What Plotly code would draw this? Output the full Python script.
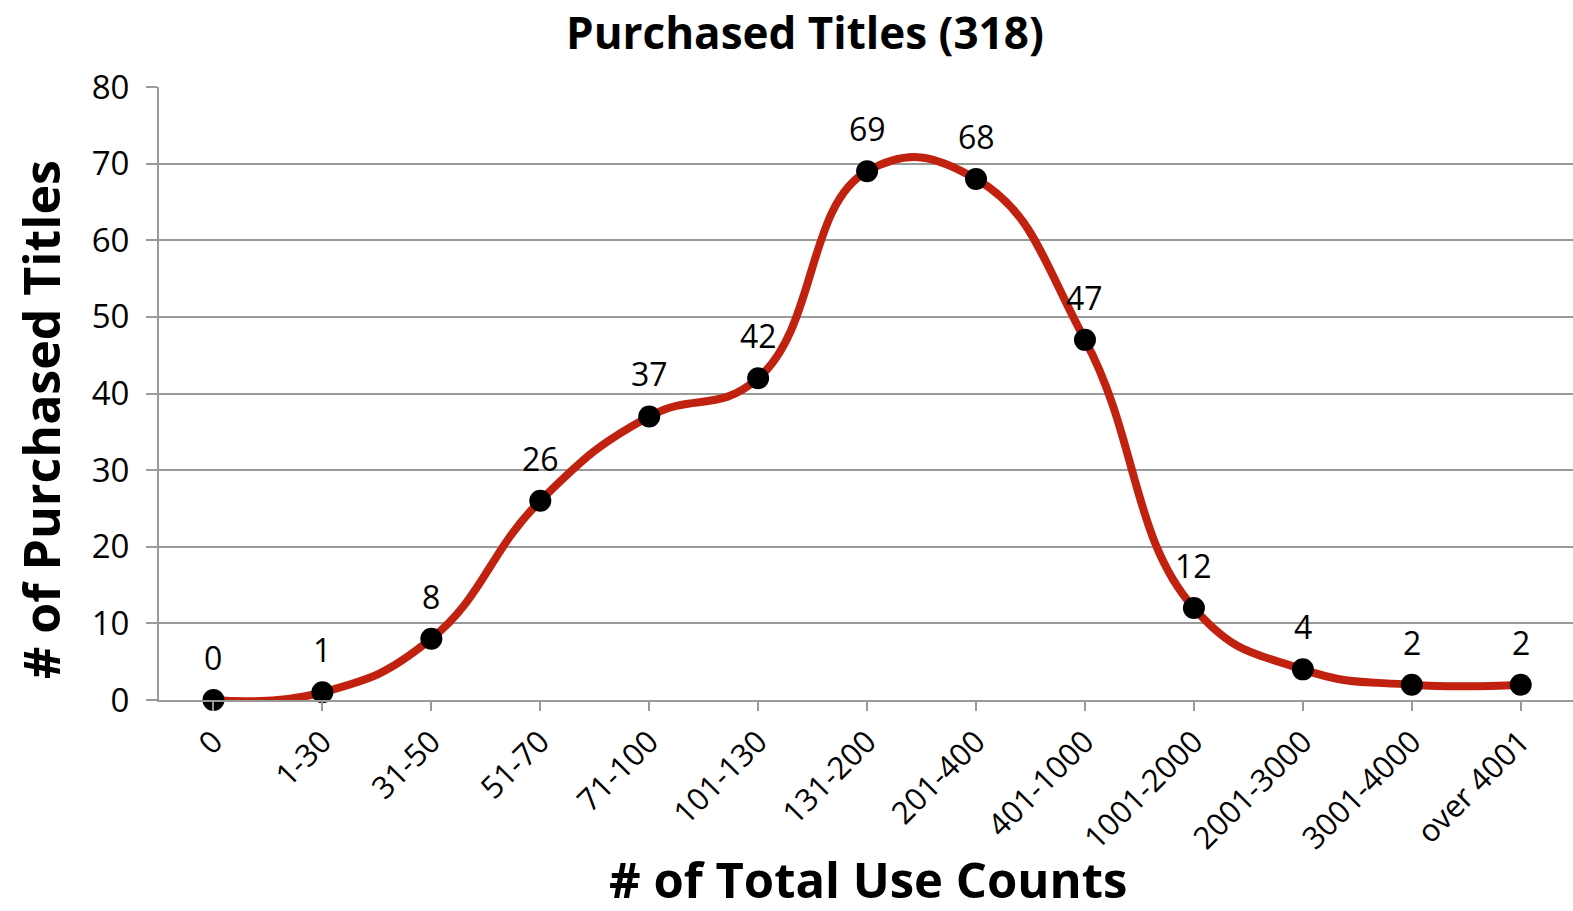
import plotly.graph_objects as go

categories = ["0", "1-30", "31-50", "51-70", "71-100", "101-130", "131-200",
              "201-400", "401-1000", "1001-2000", "2001-3000", "3001-4000", "over 4001"]
titles = [0, 1, 8, 26, 37, 42, 69, 68, 47, 12, 4, 2, 2]
y_ticks = [0, 10, 20, 30, 40, 50, 60, 70, 80]

FONT = "'Open Sans', Lato, sans-serif"
GRID = "#9a9a9a"

W, H = 1573, 911
L, R, T, B = 159, 0, 87, 211
PW, PH = W - L - R, H - T - B

fig = go.Figure()
fig.add_trace(go.Scatter(
    x=categories, y=titles,
    mode="lines+markers",
    line=dict(color="#C1220F", width=8, shape="spline", smoothing=1.3),
    marker=dict(color="black", size=22),
    cliponaxis=False,
    showlegend=False,
    hoverinfo="x+y",
))

annotations = [
    dict(x=c, y=v, xref="x", yref="y", text=str(v), showarrow=False,
         xanchor="center", yanchor="bottom", yshift=19,
         font=dict(family=FONT, size=32, color="black"))
    for c, v in zip(categories, titles)
]
annotations += [
    dict(text="<b># of Total Use Counts</b>", xref="paper", yref="paper",
         x=(868 - L) / PW, y=-(879 - (T + PH)) / PH, xanchor="center", yanchor="middle",
         showarrow=False, font=dict(family=FONT, size=49, color="black")),
    dict(text="<b># of Purchased Titles</b>", xref="paper", yref="paper",
         x=-(L - 41) / PW, y=((T + PH) - 420) / PH, xanchor="center", yanchor="middle",
         textangle=-90, showarrow=False, font=dict(family=FONT, size=50, color="black")),
    dict(text="<b>Purchased Titles (318)</b>", xref="paper", yref="paper",
         x=(805 - L) / PW, y=1 + (T - 32) / PH, xanchor="center", yanchor="middle",
         showarrow=False, font=dict(family=FONT, size=44, color="black")),
]

fig.update_layout(
    width=W, height=H,
    margin=dict(l=L, r=R, t=T, b=B, autoexpand=False),
    paper_bgcolor="white", plot_bgcolor="white",
    font=dict(family=FONT, color="black"),
    xaxis=dict(
        type="category", range=[-0.5, 12.48],
        showline=True, linecolor=GRID, linewidth=2,
        ticks="outside", ticklen=9, tickcolor=GRID, tickwidth=2,
        tickangle=-45, tickfont=dict(family=FONT, size=31, color="black"),
        showgrid=False, automargin=False,
    ),
    yaxis=dict(
        range=[0, 80], tickvals=y_ticks,
        showline=True, linecolor=GRID, linewidth=2,
        ticks="outside", ticklen=11, tickcolor=GRID, tickwidth=2,
        tickfont=dict(family=FONT, size=33, color="black"),
        ticklabelstandoff=10,
        showgrid=True, gridcolor=GRID, gridwidth=2, zeroline=False,
        automargin=False,
    ),
    annotations=annotations,
)

fig.write_html("out.html", config={"displayModeBar": False},
               post_script="document.body.style.margin = '0';")
